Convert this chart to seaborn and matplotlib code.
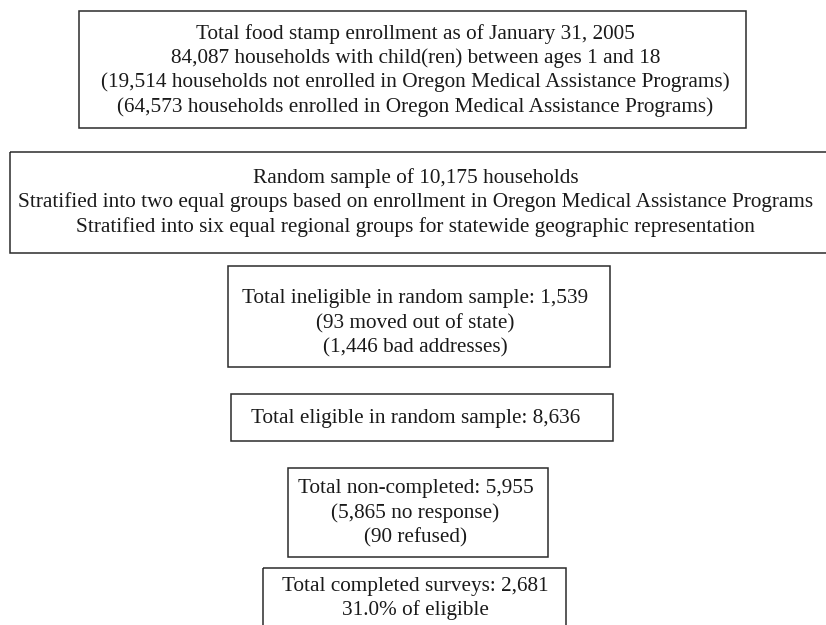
import matplotlib
matplotlib.use("Agg")
import matplotlib.pyplot as plt
import matplotlib.patches as patches
import seaborn as sns

# --- Flowchart text, one list per box ---
box_enrollment = [
    "Total food stamp enrollment as of January 31, 2005",
    "84,087 households with child(ren) between ages 1 and 18",
    "(19,514 households not enrolled in Oregon Medical Assistance Programs)",
    "(64,573 households enrolled in Oregon Medical Assistance Programs)",
]
box_sample = [
    "Random sample of 10,175 households",
    "Stratified into two equal groups based on enrollment in Oregon Medical Assistance Programs",
    "Stratified into six equal regional groups for statewide geographic representation",
]
box_ineligible = [
    "Total ineligible in random sample: 1,539",
    "(93 moved out of state)",
    "(1,446 bad addresses)",
]
box_eligible = ["Total eligible in random sample: 8,636"]
box_noncompleted = [
    "Total non-completed: 5,955",
    "(5,865 no response)",
    "(90 refused)",
]
box_completed = [
    "Total completed surveys: 2,681",
    "31.0% of eligible",
]

boxes = [box_enrollment, box_sample, box_ineligible,
         box_eligible, box_noncompleted, box_completed]

# --- layout (pixel coords, y down): left, right, top, bottom, first text line ---
layout = [
    (79, 746, 11, 128, 34),
    (10, 830, 152, 253, 178),
    (228, 610, 266, 367, 299),
    (231, 613, 394, 441, 418),
    (288, 548, 468, 557, 489),
    (263, 566, 568, 640, 586),
]
line_gap = 24.3
text_x = 415.5

sns.set_style("white")
plt.rcParams["font.family"] = ["Liberation Serif", "DejaVu Serif"]

fig = plt.figure(figsize=(8.26, 6.25), dpi=100)
ax = fig.add_axes([0, 0, 1, 1])
ax.set_xlim(0, 826)
ax.set_ylim(625, 0)
ax.axis("off")

for lines, (x0, x1, y0, y1, ty) in zip(boxes, layout):
    rect = patches.Rectangle((x0, y0), x1 - x0, y1 - y0, fill=False,
                             edgecolor="#2b2b2b", linewidth=1.1)
    ax.add_patch(rect)
    for i, txt in enumerate(lines):
        ax.text(text_x, ty + i * line_gap, txt, ha="center", va="center",
                fontsize=15.3, color="#1a1a1a")

sns.despine(left=True, bottom=True)
fig.savefig("out.png", dpi=100)
